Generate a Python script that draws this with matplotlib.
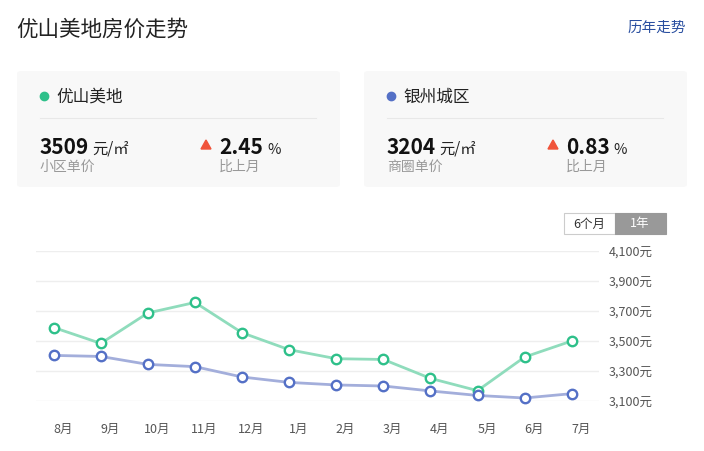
import matplotlib
matplotlib.use("Agg")
import matplotlib.pyplot as plt
from matplotlib.patches import FancyBboxPatch, Rectangle, Polygon
from matplotlib.ticker import FuncFormatter

plt.rcParams['font.family'] = ['Noto Sans CJK SC', 'DejaVu Sans']

# data
months = ['8月', '9月', '10月', '11月', '12月', '1月', '2月', '3月', '4月', '5月', '6月', '7月']
estate_prices = [3590, 3484, 3687, 3757, 3555, 3442, 3382, 3377, 3251, 3169, 3393, 3500]
district_prices = [3404, 3397, 3344, 3329, 3260, 3224, 3207, 3200, 3167, 3137, 3120, 3149]
y_ticks = [3100, 3300, 3500, 3700, 3900, 4100]

cards = [
    ('优山美地', '3509', '小区单价', '2.45', '#2ec08a'),
    ('银州城区', '3204', '商圈单价', '0.83', '#5470c6'),
]

W, H = 704, 452
fig = plt.figure(figsize=(W / 100, H / 100), dpi=100)


def fx(x):
    return x / W


def fy(y):
    return 1 - y / H


# header
fig.text(fx(16), fy(30), '优山美地房价走势', fontsize=15.5, color='#222222', va='center', ha='left')
fig.text(fx(686), fy(28), '历年走势', fontsize=10.5, color='#2a4fa0', va='center', ha='right')

# summary cards
for i, (name, price, plabel, change, dot_color) in enumerate(cards):
    off = i * 347
    card = FancyBboxPatch((fx(17 + off), fy(188)), fx(323), 116 / H,
                          boxstyle='round,pad=0,rounding_size=0.006',
                          transform=fig.transFigure, facecolor='#f8f8f8', edgecolor='none')
    fig.add_artist(card)
    fig.add_artist(plt.Line2D([fx(43.5 + off)], [fy(97)], transform=fig.transFigure,
                              marker='o', markersize=6, color=dot_color, lw=0))
    fig.text(fx(56 + off), fy(97), name, fontsize=12, color='#222222', va='center')
    fig.add_artist(plt.Line2D([fx(40 + off), fx(316 + off)], [fy(119), fy(119)],
                              transform=fig.transFigure, color='#e8e8e8', lw=0.8))
    t = fig.text(fx(40 + off), fy(154), price, fontsize=15, fontweight='bold',
                 color='#111111', va='baseline')
    fig.canvas.draw()
    bb = t.get_window_extent()
    fig.text((bb.x1 + 3) / W, fy(154), '元/㎡', fontsize=11, color='#222222', va='baseline')
    fig.text(fx(40 + off), fy(167), plabel, fontsize=10, color='#999999', va='center')
    tri = Polygon([[fx(201 + off), fy(150)], [fx(211 + off), fy(150)], [fx(206 + off), fy(141)]],
                  closed=True, transform=fig.transFigure, color='#f0533a')
    fig.add_artist(tri)
    t2 = fig.text(fx(219 + off), fy(154), change, fontsize=15, fontweight='bold',
                  color='#111111', va='baseline')
    fig.canvas.draw()
    bb2 = t2.get_window_extent()
    fig.text((bb2.x1 + 4) / W, fy(154), '%', fontsize=10.5, color='#222222', va='baseline')
    fig.text(fx(219 + off), fy(167), '比上月', fontsize=10, color='#999999', va='center')

# period buttons
fig.add_artist(Rectangle((fx(563.5), fy(234.5)), 51 / W, 21 / H, transform=fig.transFigure,
                         facecolor='white', edgecolor='#cccccc', lw=0.8))
fig.add_artist(Rectangle((fx(614.5), fy(234.5)), 51 / W, 21 / H, transform=fig.transFigure,
                         facecolor='#999999', edgecolor='#999999', lw=0.8))
fig.text(fx(589), fy(224), '6个月', fontsize=9, color='#333333', ha='center', va='center')
fig.text(fx(640), fy(224), '1年', fontsize=9, color='white', ha='center', va='center')

# chart
ax = fig.add_axes([fx(36), fy(402), (599 - 36) / W, 150 / H])
x = list(range(len(months)))
ax.plot(x, estate_prices, color='#8fdcbc', lw=2, marker='o', markersize=6.8,
        markerfacecolor='white', markeredgecolor='#2ec08a', markeredgewidth=1.7, clip_on=False, zorder=3)
ax.plot(x, district_prices, color='#a3aedb', lw=2, marker='o', markersize=6.8,
        markerfacecolor='white', markeredgecolor='#5470c6', markeredgewidth=1.7, clip_on=False, zorder=3)

ax.set_xlim(-0.376, 11.58)
ax.set_ylim(3100, 4100)
ax.set_yticks(y_ticks)
ax.yaxis.set_major_formatter(FuncFormatter(lambda v, p: f'{int(v):,}元'))
ax.yaxis.tick_right()
ax.tick_params(axis='y', length=0, pad=7, labelsize=9, labelcolor='#555555')
ax.set_xticks([i + 0.2 for i in x])
ax.set_xticklabels(months)
ax.tick_params(axis='x', length=0, pad=15, labelsize=9, labelcolor='#555555')
ax.grid(axis='y', color='#eeeeee', lw=1)
ax.set_axisbelow(True)
for s in ax.spines.values():
    s.set_visible(False)

fig.savefig('out.png', dpi=100)
